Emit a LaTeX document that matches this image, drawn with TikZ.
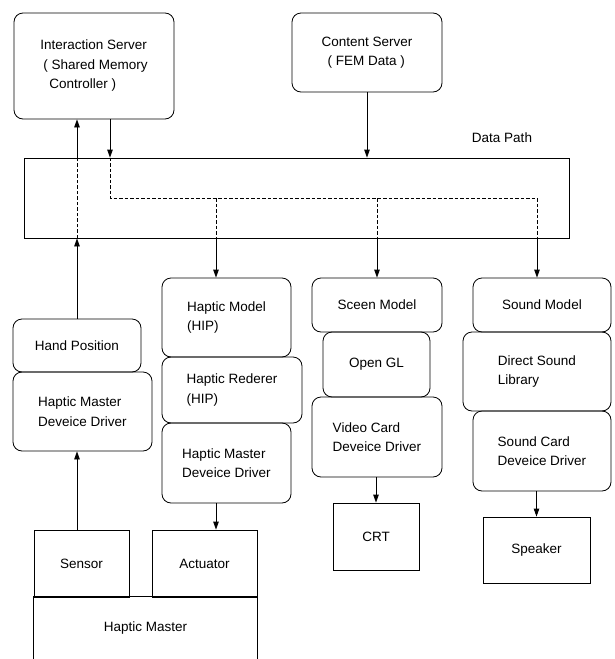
\documentclass[tikz,border=0pt]{standalone}
\usepackage{fontspec}
\setmainfont{Liberation Sans}
\usetikzlibrary{arrows.meta}

\begin{document}
\begin{tikzpicture}[
        x=1pt, y=-1pt,
        font=\fontsize{13.5}{19.5}\selectfont,
        modbox/.style={
            draw,
            line width=0.8pt,
            rounded corners=9pt,
            align=left,
            inner sep=2pt
        },
        hwbox/.style={draw, line width=0.8pt, align=left, inner sep=2pt},
        line/.style={draw, line width=0.8pt},
        arr/.style={line, -{Triangle[length=8pt,width=5.5pt]}},
        bus/.style={line width=0.7pt, dash pattern=on 3.5pt off 2pt}
    ]
        \useasboundingbox (0,0) rectangle (614,659);

        % servers and data path
        \node[modbox, minimum width=160pt, minimum height=106pt] (iserv) at (94,66)
            {Interaction Server\\\hspace{3pt}( Shared Memory\\\hspace{9pt}Controller )};
        \node[modbox, minimum width=150pt, minimum height=79pt] (cserv) at (367,52.5)
            {Content Server\\\hspace{6pt}( FEM Data )};
        \node[hwbox, minimum width=545pt, minimum height=80pt] (path) at (296.5,198) {};
        \node (pathlabel) at (502,138) {Data Path};

        % haptic input side
        \node[modbox, minimum width=128pt, minimum height=53pt] (hand) at (77,345.5) {Hand Position};
        \node[modbox, minimum width=139pt, minimum height=79pt] (lhmdd) at (82.5,411.5)
            {Haptic Master\\Deveice Driver};

        % haptic output side
        \node[modbox, minimum width=129pt, minimum height=79pt] (hmodel) at (226.5,317.5)
            {Haptic Model\\(HIP)};
        \node[modbox, minimum width=140pt, minimum height=66pt] (hrender) at (232,390)
            {Haptic Rederer\\(HIP)};
        \node[modbox, minimum width=129pt, minimum height=80pt] (mhmdd) at (226.5,463)
            {Haptic Master\\Deveice Driver};

        % device
        \node[hwbox, minimum width=95pt, minimum height=67pt] (sensor) at (81.5,563.5) {Sensor};
        \node[hwbox, minimum width=105pt, minimum height=67pt] (actuator) at (204.5,563.5) {Actuator};
        \node[minimum width=223pt, minimum height=62pt] (hmaster) at (145.5,628) {Haptic Master};
        \draw[line] (hmaster.south west) -- (hmaster.north west) -- (hmaster.north east) -- (hmaster.south east);

        % graphics
        \node[modbox, minimum width=130pt, minimum height=54pt] (scmodel) at (377,305) {Sceen Model};
        \node[modbox, minimum width=107pt, minimum height=65pt] (opengl) at (376.5,364.5) {Open GL};
        \node[modbox, minimum width=130pt, minimum height=80pt] (vdriver) at (377,437)
            {Video Card\\Deveice Driver};
        \node[hwbox, minimum width=86pt, minimum height=67pt] (crt) at (376,536.5) {CRT};

        % sound
        \node[modbox, minimum width=138pt, minimum height=54pt] (somodel) at (542,305) {Sound Model};
        \node[modbox, minimum width=148pt, minimum height=79pt] (dsound) at (537,371.5)
            {Direct Sound\\Library};
        \node[modbox, minimum width=138pt, minimum height=80pt] (sdriver) at (542,451)
            {Sound Card\\Deveice Driver};
        \node[hwbox, minimum width=107pt, minimum height=66pt] (speaker) at (536.5,550) {Speaker};

        % bus inside the data path
        \coordinate (busin) at (110,198);
        \coordinate (taph) at (216,198);
        \coordinate (taps) at (537,198);

        \draw[arr] (sensor.north -| hand.north) -- (lhmdd.south -| hand.north);
        \draw[arr] (hand.north) -- (hand.north |- path.south);
        \draw[bus] (hand.north |- path.south) -- (hand.north |- path.north);
        \draw[arr] (hand.north |- path.north) -- (hand.north |- iserv.south);

        \draw[arr] (iserv.south -| busin) -- (path.north -| busin);
        \draw[arr] (cserv.south) -- (cserv.south |- path.north);
        \draw[bus] (path.north -| busin) -- (busin) -- (taps) -- (path.south -| taps);
        \draw[bus] (taph) -- (path.south -| taph);
        \draw[bus] (busin -| scmodel.north) -- (path.south -| scmodel.north);

        \draw[arr] (path.south -| taph) -- (hmodel.north -| taph);
        \draw[arr] (path.south -| scmodel.north) -- (scmodel.north);
        \draw[arr] (path.south -| taps) -- (somodel.north -| taps);

        \draw[arr] (mhmdd.south -| taph) -- (actuator.north -| taph);
        \draw[arr] (vdriver.south -| crt.north) -- (crt.north);
        \draw[arr] (sdriver.south -| speaker.north) -- (speaker.north);
    \end{tikzpicture}
\end{document}
